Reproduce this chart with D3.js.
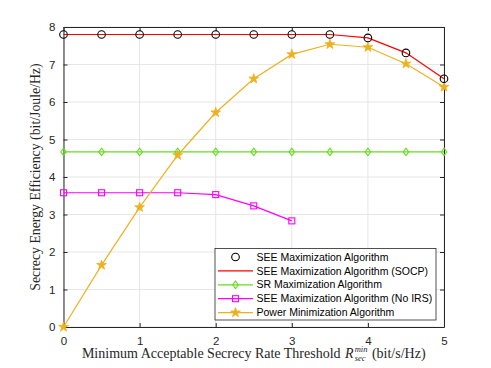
<!DOCTYPE html>
<html>
<head>
<meta charset="utf-8">
<script src="https://cdn.jsdelivr.net/npm/d3@7"></script>
<style>
body { margin: 0; background: #fff; }
svg text { font-family: "Liberation Sans", Arial, sans-serif; }
.lab { font-family: "Liberation Serif", "DejaVu Serif", serif; }
</style>
</head>
<body>
<div id="chart"></div>
<script>
// data
var rmin = [0, 0.5, 1, 1.5, 2, 2.5, 3, 3.5, 4, 4.5, 5];
var seeMax = [7.8, 7.8, 7.8, 7.8, 7.8, 7.8, 7.8, 7.8, 7.71, 7.31, 6.62];
var seeSocp = [7.8, 7.8, 7.8, 7.8, 7.8, 7.8, 7.8, 7.8, 7.71, 7.31, 6.62];
var srMax = [4.67, 4.67, 4.67, 4.67, 4.67, 4.67, 4.67, 4.67, 4.67, 4.67, 4.67];
var rminNoIrs = [0, 0.5, 1, 1.5, 2, 2.5, 3];
var seeNoIrs = [3.58, 3.58, 3.58, 3.58, 3.53, 3.23, 2.83];
var powerMin = [0, 1.65, 3.19, 4.58, 5.72, 6.62, 7.27, 7.54, 7.46, 7.02, 6.4];
var xTicks = [0, 1, 2, 3, 4, 5];
var yTicks = [0, 1, 2, 3, 4, 5, 6, 7, 8];

var W = 491, H = 368;
var margin = {top: 27, right: 47, bottom: 41, left: 63.5};
var width = W - margin.left - margin.right,
    height = H - margin.top - margin.bottom;

var x = d3.scaleLinear().domain([0, 5]).range([0, width]);
var y = d3.scaleLinear().domain([0, 8]).range([height, 0]);

var svg = d3.select("#chart").append("svg")
    .attr("width", W).attr("height", H);
var g = svg.append("g")
    .attr("transform", "translate(" + margin.left + "," + margin.top + ")");

//grid
g.append("g").selectAll("line").data(xTicks).join("line")
  .attr("x1", d => x(d)).attr("x2", d => x(d))
  .attr("y1", 0).attr("y2", height)
  .attr("stroke", "#e6e6e6").attr("stroke-width", 1);
g.append("g").selectAll("line").data(yTicks).join("line")
  .attr("y1", d => y(d)).attr("y2", d => y(d))
  .attr("x1", 0).attr("x2", width)
  .attr("stroke", "#e6e6e6").attr("stroke-width", 1);

//axes (box with ticks on all sides)
function styleAxis(sel) {
  sel.select(".domain").attr("stroke", "#262626");
  sel.selectAll(".tick line").attr("stroke", "#262626");
  sel.selectAll(".tick text").attr("fill", "#262626").style("font-size", "11.5px");
}
var fmt = d3.format("d");
g.append("g").attr("transform", "translate(0," + height + ")")
  .call(d3.axisBottom(x).tickValues(xTicks).tickFormat(fmt).tickSize(-4).tickSizeOuter(0).tickPadding(10))
  .call(styleAxis);
g.append("g")
  .call(d3.axisLeft(y).tickValues(yTicks).tickFormat(fmt).tickSize(-4).tickSizeOuter(0).tickPadding(8))
  .call(styleAxis);
g.append("g")
  .call(d3.axisTop(x).tickValues(xTicks).tickSize(-4).tickSizeOuter(0).tickFormat(""))
  .call(styleAxis);
g.append("g").attr("transform", "translate(" + width + ",0)")
  .call(d3.axisRight(y).tickValues(yTicks).tickSize(-4).tickSizeOuter(0).tickFormat(""))
  .call(styleAxis);

var line = d3.line().x(d => x(d[0])).y(d => y(d[1]));
function pairs(xs, ys) { return xs.map((v, i) => [v, ys[i]]); }

var star = d3.symbol().type(d3.symbolStar).size(30);
var diamond = "M0,-3.8L2.8,0L0,3.8L-2.8,0Z";

var series = [
  {name: "SEE Maximization Algorithm", xs: rmin, ys: seeMax, color: "#000000", line: false, marker: "circle"},
  {name: "SEE Maximization Algorithm (SOCP)", xs: rmin, ys: seeSocp, color: "#ff0000", line: true, marker: null},
  {name: "SR Maximization Algorithm", xs: rmin, ys: srMax, color: "#66dd22", line: true, marker: "diamond"},
  {name: "SEE Maximization Algorithm (No IRS)", xs: rminNoIrs, ys: seeNoIrs, color: "#ff00ff", line: true, marker: "square"},
  {name: "Power Minimization Algorithm", xs: rmin, ys: powerMin, color: "#edb120", line: true, marker: "star"}
];

function drawMarker(sel, s) {
  if (s.marker === "circle") {
    sel.append("circle").attr("r", 3.8).attr("fill", "none").attr("stroke", s.color).attr("stroke-width", 1.1);
  } else if (s.marker === "diamond") {
    sel.append("path").attr("d", diamond).attr("fill", "none").attr("stroke", s.color).attr("stroke-width", 1.1);
  } else if (s.marker === "square") {
    sel.append("rect").attr("x", -3).attr("y", -3).attr("width", 6).attr("height", 6)
      .attr("fill", "none").attr("stroke", s.color).attr("stroke-width", 1.1);
  } else if (s.marker === "star") {
    sel.append("path").attr("d", star()).attr("fill", s.color).attr("stroke", s.color).attr("stroke-width", 0.8);
  }
}

// draw order: SOCP line first so circles sit on top
var order = [1, 2, 3, 4, 0];
order.forEach(function(i) {
  var s = series[i];
  var pts = pairs(s.xs, s.ys);
  if (s.line) {
    g.append("path").datum(pts).attr("d", line)
      .attr("fill", "none").attr("stroke", s.color).attr("stroke-width", 1.2);
  }
  if (s.marker) {
    pts.forEach(function(p) {
      var m = g.append("g").attr("transform", "translate(" + x(p[0]) + "," + y(p[1]) + ")");
      drawMarker(m, s);
    });
  }
});

//axis labels
svg.append("text").attr("class", "lab")
  .attr("transform", "translate(40," + (margin.top + height / 2) + ") rotate(-90)")
  .attr("text-anchor", "middle").style("font-size", "13.8px").attr("fill", "#262626")
  .text("Secrecy Energy Efficiency (bit/Joule/Hz)");

// x label: main text, then R with stacked sub/superscript, then units
var xlY = 358, gap = 4.5;
var xl = svg.append("g").attr("class", "xlab");
var t1 = xl.append("text").attr("class", "lab").attr("y", xlY)
  .style("font-size", "14px").attr("fill", "#262626")
  .text("Minimum Acceptable Secrecy Rate Threshold");
var tR = xl.append("text").attr("class", "lab").attr("y", xlY)
  .style("font-size", "14px").style("font-style", "italic").attr("fill", "#262626").text("R");
var tSub = xl.append("text").attr("class", "lab").attr("y", xlY + 3)
  .style("font-size", "8.5px").style("font-style", "italic").attr("fill", "#262626").text("sec");
var tSup = xl.append("text").attr("class", "lab").attr("y", xlY - 6)
  .style("font-size", "8.5px").style("font-style", "italic").attr("fill", "#262626").text("min");
var t2 = xl.append("text").attr("class", "lab").attr("y", xlY)
  .style("font-size", "14px").attr("fill", "#262626").text("(bit/s/Hz)");
var w1 = t1.node().getComputedTextLength(),
    wR = tR.node().getComputedTextLength(),
    wS = Math.max(tSub.node().getComputedTextLength(), tSup.node().getComputedTextLength()),
    w2 = t2.node().getComputedTextLength();
var total = w1 + gap + wR + 1 + wS + gap + w2;
var x0 = margin.left + width / 2 - total / 2;
t1.attr("x", x0);
tR.attr("x", x0 + w1 + gap);
tSub.attr("x", x0 + w1 + gap + wR + 1);
tSup.attr("x", x0 + w1 + gap + wR + 1);
t2.attr("x", x0 + w1 + gap + wR + 1 + wS + gap);

//legend
var lg = svg.append("g").attr("transform", "translate(215,248.5)");
lg.append("rect").attr("width", 221).attr("height", 71.5)
  .attr("fill", "#fff").attr("stroke", "#262626").attr("stroke-width", 0.8);
series.forEach(function(s, i) {
  var row = lg.append("g").attr("transform", "translate(0," + (8.5 + i * 13.9) + ")");
  if (s.line) {
    row.append("line").attr("x1", 3).attr("x2", 38).attr("stroke", s.color).attr("stroke-width", 1.2);
  }
  if (s.marker) {
    var m = row.append("g").attr("transform", "translate(20.5,0)");
    drawMarker(m, s);
  }
  row.append("text").attr("x", 41.5).attr("dy", "0.35em")
    .style("font-size", "10.5px").attr("fill", "#000").text(s.name);
});
</script>
</body>
</html>
